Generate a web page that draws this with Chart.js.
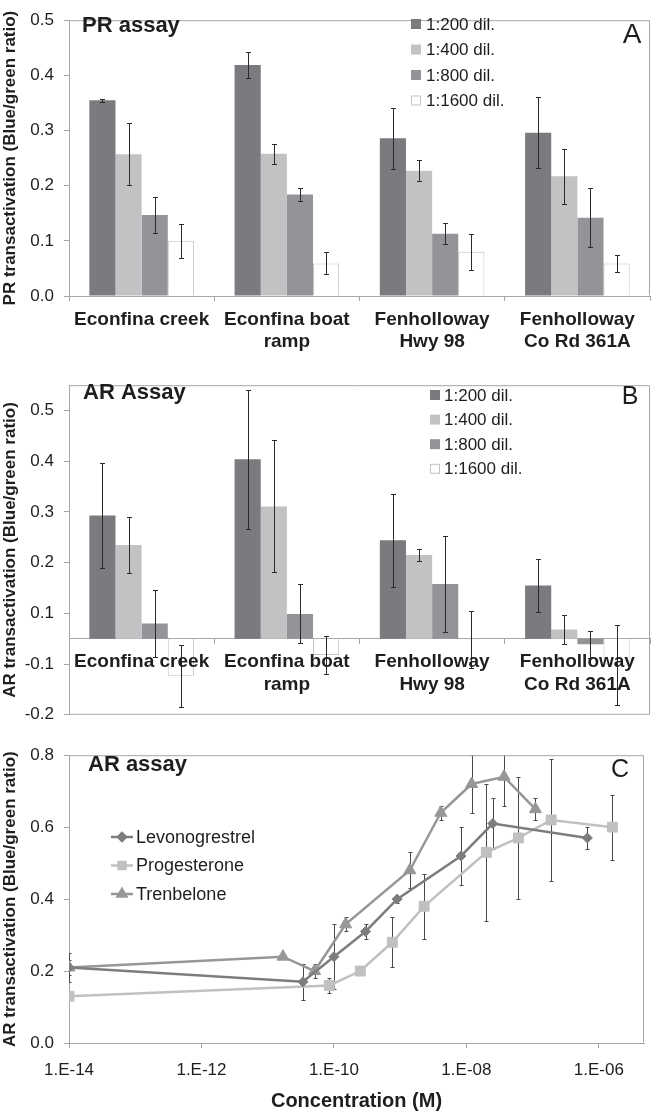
<!DOCTYPE html>
<html>
<head>
<meta charset="utf-8">
<script src="https://cdn.jsdelivr.net/npm/chart.js@4"></script>
<style>
  html, body { margin: 0; padding: 0; background: #fff; }
  body { width: 654px; height: 1114px; position: relative; overflow: hidden; }
  canvas { position: absolute; left: 0; }
</style>
</head>
<body>
<canvas id="prChart" width="654" height="365" style="top:0"></canvas>
<canvas id="arChart" width="654" height="370" style="top:365px"></canvas>
<canvas id="doseChart" width="654" height="379" style="top:735px"></canvas>
<script>
// sampling sites (x categories of panels A and B)
const sites = [['Econfina creek'], ['Econfina boat', 'ramp'], ['Fenholloway', 'Hwy 98'], ['Fenholloway', 'Co Rd 361A']];
const dilutions = ['1:200 dil.', '1:400 dil.', '1:800 dil.', '1:1600 dil.'];

// A - PR assay (mean, +/- error), one value per site
const pr200 = [0.355, 0.419, 0.286, 0.296];
const pr200Err = [0.003, 0.023, 0.055, 0.064];
const pr400 = [0.257, 0.258, 0.227, 0.217];
const pr400Err = [0.056, 0.018, 0.019, 0.050];
const pr800 = [0.147, 0.184, 0.113, 0.142];
const pr800Err = [0.033, 0.012, 0.019, 0.053];
const pr1600 = [0.100, 0.059, 0.080, 0.059];
const pr1600Err = [0.031, 0.020, 0.033, 0.015];

const ar200 = [0.243, 0.354, 0.194, 0.105];
const ar200Err = [0.103, 0.137, 0.091, 0.053];
const ar400 = [0.185, 0.261, 0.165, 0.018];
const ar400Err = [0.056, 0.130, 0.012, 0.028];
const ar800 = [0.030, 0.049, 0.108, -0.011];
const ar800Err = [0.066, 0.058, 0.094, 0.026];
const ar1600 = [-0.073, -0.032, -0.001, -0.051];
const ar1600Err = [0.061, 0.038, 0.056, 0.079];
// the printed tick labels of panel B and where they sit
const arTickValues = [-0.15, -0.05, 0.05, 0.15, 0.25, 0.35, 0.45];
const arTickLabels = ['-0.2', '-0.1', '0.1', '0.2', '0.3', '0.4', '0.5'];

// C - AR assay dose response
const levoConc = [1e-14, 3.4e-11, 1e-10, 3e-10, 9e-10, 8.3e-9, 2.5e-8, 6.7e-7];
const levoVal = [0.21, 0.17, 0.24, 0.31, 0.40, 0.52, 0.61, 0.57];
const levoErr = [0.02, 0.05, 0.09, 0.02, 0.01, 0.08, 0.07, 0.03];
const progConc = [1e-14, 8.5e-11, 2.5e-10, 7.6e-10, 2.3e-9, 2.0e-8, 6.1e-8, 1.9e-7, 1.6e-6];
const progVal = [0.13, 0.16, 0.20, 0.28, 0.38, 0.53, 0.57, 0.62, 0.60];
const progErr = [0, 0.02, 0, 0.07, 0.09, 0.19, 0.17, 0.17, 0.09];
const trenConc = [1e-14, 1.7e-11, 5.1e-11, 1.5e-10, 1.4e-9, 4.1e-9, 1.2e-8, 3.7e-8, 1.1e-7];
const trenVal = [0.21, 0.24, 0.20, 0.33, 0.48, 0.64, 0.72, 0.74, 0.65];
const trenErr = [0.04, 0, 0.02, 0.02, 0.05, 0.02, 0.08, 0.08, 0.03];
const concTicks = [1e-14, 1e-12, 1e-10, 1e-8, 1e-6];
const concTickLabels = ['1.E-14', '1.E-12', '1.E-10', '1.E-08', '1.E-06'];

const FONT = '"Liberation Sans", Arial, sans-serif';
const axisColor = '#a6a6a6';
const textColor = '#1e1e1e';
Chart.defaults.font.family = FONT;
Chart.defaults.color = textColor;

const barColors = {
    d200: '#7a7b7e',
    d400: '#c1c2c4',
    d800: '#939497',
    d1600: '#ffffff'
};

// error bars, drawn with the chart's own y scale
function drawErrors(chart, opts) {
    const ctx = chart.ctx;
    const ys = chart.scales.y;
    const a = chart.chartArea;
    ctx.save();
    ctx.beginPath();
    ctx.rect(a.left, a.top, a.right - a.left, a.bottom - a.top);
    ctx.clip();
    ctx.strokeStyle = opts.color || '#333';
    ctx.lineWidth = 1;
    chart.data.datasets.forEach((ds, i) => {
        if (!ds.errors) return;
        chart.getDatasetMeta(i).data.forEach((el, j) => {
            const err = ds.errors[j];
            if (!err) return;
            const d = ds.data[j];
            const val = typeof d === 'object' ? d.y : d;
            const x = Math.round(el.x) + 0.5;
            const top = Math.round(ys.getPixelForValue(val + err)) + 0.5;
            const bot = Math.round(ys.getPixelForValue(val - err)) + 0.5;
            const cap = opts.cap || 2.5;
            ctx.beginPath();
            ctx.moveTo(x, top); ctx.lineTo(x, bot);
            ctx.moveTo(x - cap, top); ctx.lineTo(x + cap, top);
            ctx.moveTo(x - cap, bot); ctx.lineTo(x + cap, bot);
            ctx.stroke();
        });
    });
    ctx.restore();
}

const errorBars = {
    id: 'errorBars',
    beforeDatasetsDraw(chart, args, opts) { if (opts.behind) drawErrors(chart, opts); },
    afterDatasetsDraw(chart, args, opts) { if (!opts.behind) drawErrors(chart, opts); }
};

// frame, panel title, panel letter and the legend
const panelDecor = {
    id: 'panelDecor',
    afterDraw(chart, args, o) {
        const ctx = chart.ctx, a = chart.chartArea;
        ctx.save();
        ctx.strokeStyle = axisColor;
        ctx.lineWidth = 1;
        ctx.beginPath();
        ctx.moveTo(a.left, a.top + 0.5);
        ctx.lineTo(a.right - 0.5, a.top + 0.5);
        ctx.lineTo(a.right - 0.5, a.bottom - 0.5);
        if (o.closeBottom) ctx.lineTo(a.left, a.bottom - 0.5);
        ctx.stroke();

        ctx.fillStyle = textColor;
        ctx.textBaseline = 'middle';
        ctx.textAlign = 'left';
        ctx.font = 'bold 22px ' + FONT;
        ctx.fillText(o.title, o.titleX, o.titleY);
        ctx.textAlign = 'center';
        ctx.font = o.letterSize + 'px ' + FONT;
        ctx.fillText(o.letter, o.letterX, o.letterY);

        ctx.textAlign = 'left';
        ctx.font = o.legendSize + 'px ' + FONT;
        chart.data.datasets.forEach((ds, i) => {
            const yy = o.legendY + i * o.legendGap;
            if (o.legendKind === 'box') {
                ctx.fillStyle = ds.backgroundColor;
                ctx.fillRect(o.legendX, yy - 5, 10, 10);
                if (ds.borderWidth) {
                    ctx.strokeStyle = ds.borderColor;
                    ctx.lineWidth = 1;
                    ctx.strokeRect(o.legendX + 0.5, yy - 4.5, 9, 9);
                }
            } else {
                ctx.strokeStyle = ds.borderColor;
                ctx.lineWidth = 2.5;
                ctx.beginPath();
                ctx.moveTo(o.legendX, yy);
                ctx.lineTo(o.legendX + 22, yy);
                ctx.stroke();
                ctx.fillStyle = ds.backgroundColor;
                ctx.strokeStyle = ds.borderColor;
                Chart.helpers.drawPoint(ctx, {
                    pointStyle: ds.pointStyle, rotation: 0,
                    radius: ds.legendRadius, borderWidth: 1
                }, o.legendX + 11, yy);
            }
            ctx.fillStyle = textColor;
            ctx.fillText(ds.label, o.textX, yy + 1);
        });
        ctx.restore();
    }
};

function barSet(label, values, errs, color) {
    return {
        label: label,
        data: values,
        errors: errs,
        backgroundColor: color,
        borderColor: color === '#ffffff' ? '#c4c4c4' : color,
        borderWidth: color === '#ffffff' ? 1 : 0,
        categoryPercentage: 0.72,
        barPercentage: 1.0
    };
}

function yTitle(text) {
    return { display: true, text: text, color: textColor, padding: 0, font: { size: 17, weight: 'bold' } };
}

const tickGrid = { drawOnChartArea: false, drawTicks: true, tickLength: 5, color: axisColor };
const siteTicks = { font: { size: 19, weight: 'bold' }, color: textColor, padding: 7, maxRotation: 0, autoSkip: false, z: 1 };

// A. PR assay
new Chart(document.getElementById('prChart'), {
    type: 'bar',
    data: {
        labels: sites,
        datasets: [
            barSet(dilutions[0], pr200, pr200Err, barColors.d200),
            barSet(dilutions[1], pr400, pr400Err, barColors.d400),
            barSet(dilutions[2], pr800, pr800Err, barColors.d800),
            barSet(dilutions[3], pr1600, pr1600Err, barColors.d1600)
        ]
    },
    options: {
        responsive: false,
        animation: false,
        devicePixelRatio: 1,
        layout: { padding: { top: 11, right: 4, left: 0, bottom: 0 } },
        plugins: {
            legend: { display: false },
            tooltip: { enabled: false },
            errorBars: { color: '#2a2a2a', cap: 2.5 },
            panelDecor: {
                title: 'PR assay', titleX: 82, titleY: 26,
                letter: 'A', letterX: 632, letterY: 35, letterSize: 28,
                legendKind: 'box', legendX: 411, textX: 426, legendY: 24, legendGap: 25.5, legendSize: 17
            }
        },
        scales: {
            x: {
                grid: tickGrid,
                border: { color: axisColor },
                ticks: siteTicks,
                afterFit: s => { s.height = 69; }
            },
            y: {
                min: 0, max: 0.5,
                grid: tickGrid,
                border: { color: axisColor },
                ticks: { stepSize: 0.1, font: { size: 17 }, color: textColor, padding: 10, callback: v => v.toFixed(1) },
                title: yTitle('PR transactivation (Blue/green ratio)'),
                afterFit: s => { s.width = 69; }
            }
        }
    },
    plugins: [errorBars, panelDecor]
});

// B. AR assay
new Chart(document.getElementById('arChart'), {
    type: 'bar',
    data: {
        labels: sites,
        datasets: [
            barSet(dilutions[0], ar200, ar200Err, barColors.d200),
            barSet(dilutions[1], ar400, ar400Err, barColors.d400),
            barSet(dilutions[2], ar800, ar800Err, barColors.d800),
            barSet(dilutions[3], ar1600, ar1600Err, barColors.d1600)
        ]
    },
    options: {
        responsive: false,
        animation: false,
        devicePixelRatio: 1,
        layout: { padding: { top: 11, right: 4, left: 0, bottom: 17 } },
        plugins: {
            legend: { display: false },
            tooltip: { enabled: false },
            errorBars: { color: '#2a2a2a', cap: 2.5 },
            panelDecor: {
                closeBottom: true,
                title: 'AR Assay', titleX: 83, titleY: 28,
                letter: 'B', letterX: 630, letterY: 32, letterSize: 25,
                legendKind: 'box', legendX: 430, textX: 444, legendY: 30, legendGap: 24.6, legendSize: 17
            }
        },
        scales: {
            x: {
                position: { y: 0 },
                grid: tickGrid,
                border: { color: axisColor },
                ticks: siteTicks
            },
            y: {
                min: -0.15, max: 0.5,
                grid: tickGrid,
                border: { color: axisColor },
                afterBuildTicks: s => { s.ticks = arTickValues.map(v => ({ value: v })); },
                ticks: { font: { size: 17 }, color: textColor, padding: 10, callback: (v, i) => arTickLabels[i] },
                title: yTitle('AR transactivation (Blue/green ratio)'),
                afterFit: s => { s.width = 69; }
            }
        }
    },
    plugins: [errorBars, panelDecor]
});

// C. AR assay dose response
function lineSet(label, conc, vals, errs, color, style, radius, legendRadius) {
    return {
        label: label,
        data: conc.map((c, i) => ({ x: c, y: vals[i] })),
        errors: errs,
        borderColor: color,
        backgroundColor: color,
        borderWidth: 2.5,
        pointStyle: style,
        pointRadius: radius,
        pointBorderWidth: 1,
        legendRadius: legendRadius,
        tension: 0
    };
}

new Chart(document.getElementById('doseChart'), {
    type: 'line',
    data: {
        datasets: [
            lineSet('Levonogrestrel', levoConc, levoVal, levoErr, '#7d7d7d', 'rectRot', 5, 4),
            lineSet('Progesterone', progConc, progVal, progErr, '#c0c0c0', 'rect', 7, 5),
            lineSet('Trenbelone', trenConc, trenVal, trenErr, '#979797', 'triangle', 7, 5)
        ]
    },
    options: {
        responsive: false,
        animation: false,
        devicePixelRatio: 1,
        layout: { padding: { top: 12, right: 10, left: 0, bottom: 0 } },
        plugins: {
            legend: { display: false },
            tooltip: { enabled: false },
            errorBars: { color: '#4a4a4a', cap: 2, behind: true },
            panelDecor: {
                title: 'AR assay', titleX: 88, titleY: 30,
                letter: 'C', letterX: 620, letterY: 35, letterSize: 25,
                legendKind: 'line', legendX: 111, textX: 136, legendY: 102, legendGap: 28.5, legendSize: 18
            }
        },
        scales: {
            x: {
                type: 'logarithmic',
                min: 1e-14, max: 4.8e-6,
                grid: tickGrid,
                border: { color: axisColor },
                afterBuildTicks: s => { s.ticks = concTicks.map(v => ({ value: v })); },
                ticks: { font: { size: 17 }, color: textColor, padding: 12, maxRotation: 0, autoSkip: false,
                    callback: (v, i) => concTickLabels[i] },
                title: { display: true, text: 'Concentration (M)', color: textColor, padding: { top: 0, bottom: 1 },
                    font: { size: 20, weight: 'bold' } },
                afterFit: s => { s.height = 71; }
            },
            y: {
                min: 0, max: 0.8,
                grid: tickGrid,
                border: { color: axisColor },
                ticks: { stepSize: 0.2, font: { size: 17 }, color: textColor, padding: 10, callback: v => v.toFixed(1) },
                title: yTitle('AR transactivation (Blue/green ratio)'),
                afterFit: s => { s.width = 69; }
            }
        }
    },
    plugins: [errorBars, panelDecor]
});
</script>
</body>
</html>
